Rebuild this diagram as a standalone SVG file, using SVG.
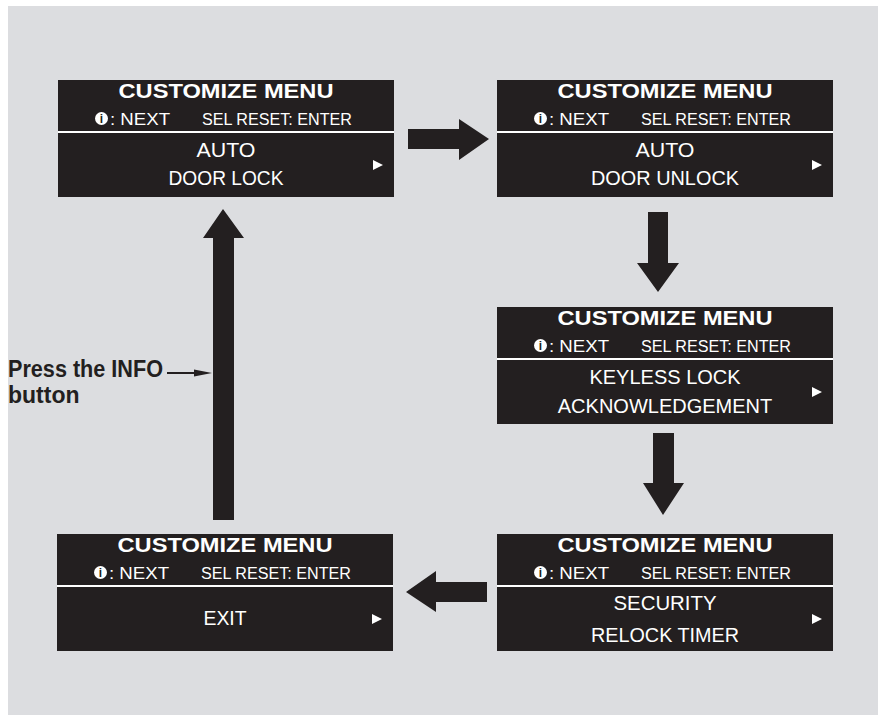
<svg xmlns="http://www.w3.org/2000/svg" width="878" height="715" viewBox="0 0 878 715">
<style>
.bg{fill:#dcdde0}
.panel{fill:#231f20}
.div{stroke:#ffffff;stroke-width:2}
.title{font-family:"Liberation Sans",Arial,sans-serif;font-weight:bold;font-size:21px;fill:#ffffff;text-anchor:middle}
.sub{font-family:"Liberation Sans",Arial,sans-serif;font-size:16px;fill:#ffffff}
.icon{fill:#ffffff}
.icon-i{font-family:"Liberation Sans",Arial,sans-serif;font-weight:bold;font-size:12px;fill:#231f20;text-anchor:middle}
.body{font-family:"Liberation Sans",Arial,sans-serif;font-size:20px;fill:#ffffff;text-anchor:middle}
.tri{fill:#ffffff}
.arrow{fill:#231f20}
.label{font-family:"Liberation Sans",Arial,sans-serif;font-weight:bold;font-size:23px;fill:#231f20}
</style>
<defs>
<g id="header">
<rect class="panel" x="0" y="0" width="336" height="117"/>
<line class="div" x1="0" y1="52" x2="336" y2="52"/>
<text class="title" x="168" y="18" textLength="215" lengthAdjust="spacingAndGlyphs">CUSTOMIZE MENU</text>
<circle class="icon" cx="43.5" cy="38.5" r="6.5"/>
<text class="icon-i" x="43.5" y="43">i</text>
<text class="sub" x="52" y="45" textLength="60" lengthAdjust="spacingAndGlyphs">: NEXT</text>
<text class="sub" x="144" y="45" textLength="150" lengthAdjust="spacingAndGlyphs">SEL RESET: ENTER</text>
<polygon class="tri" points="315,80 325,85 315,90"/>
</g>
</defs>
<rect class="bg" x="8" y="6" width="870" height="709"/>

<g id="node-auto-door-lock" transform="translate(58,80)">
<use href="#header"/>
<text class="body" x="168" y="77" textLength="59" lengthAdjust="spacingAndGlyphs">AUTO</text>
<text class="body" x="168" y="105" textLength="115" lengthAdjust="spacingAndGlyphs">DOOR LOCK</text>
</g>

<g id="node-auto-door-unlock" transform="translate(497,80)">
<use href="#header"/>
<text class="body" x="168" y="77" textLength="59" lengthAdjust="spacingAndGlyphs">AUTO</text>
<text class="body" x="168" y="105" textLength="148" lengthAdjust="spacingAndGlyphs">DOOR UNLOCK</text>
</g>

<g id="node-keyless" transform="translate(497,307)">
<use href="#header"/>
<text class="body" x="168" y="77">KEYLESS LOCK</text>
<text class="body" x="168" y="106">ACKNOWLEDGEMENT</text>
</g>

<g id="node-security" transform="translate(497,534)">
<use href="#header"/>
<text class="body" x="168" y="76" textLength="103" lengthAdjust="spacingAndGlyphs">SECURITY</text>
<text class="body" x="168" y="108" textLength="148" lengthAdjust="spacingAndGlyphs">RELOCK TIMER</text>
</g>

<g id="node-exit" transform="translate(57,534)">
<use href="#header"/>
<text class="body" x="168" y="91" textLength="43" lengthAdjust="spacingAndGlyphs">EXIT</text>
</g>

<g id="connectors">
<polygon class="arrow" points="408,129 459,129 459,119 489,139 459,160 459,149 408,149"/>
<polygon class="arrow" points="648,212 668,212 668,263 679,263 658,292 637,263 648,263"/>
<polygon class="arrow" points="653,433 674,433 674,483 684,483 663,515 643,483 653,483"/>
<polygon class="arrow" points="487,582 487,602 436,602 436,612 406,592 436,571 436,582"/>
<polygon class="arrow" points="213,520 213,238 203,238 223,209 244,238 234,238 234,520"/>
</g>

<g id="label-info">
<text class="label" x="8" y="377" textLength="155" lengthAdjust="spacingAndGlyphs">Press the INFO</text>
<text class="label" x="8" y="403">button</text>
<line x1="167" y1="373" x2="198" y2="373" stroke="#231f20" stroke-width="2"/>
<polygon class="arrow" points="194,369.5 212,373 194,376.5"/>
</g>
</svg>
